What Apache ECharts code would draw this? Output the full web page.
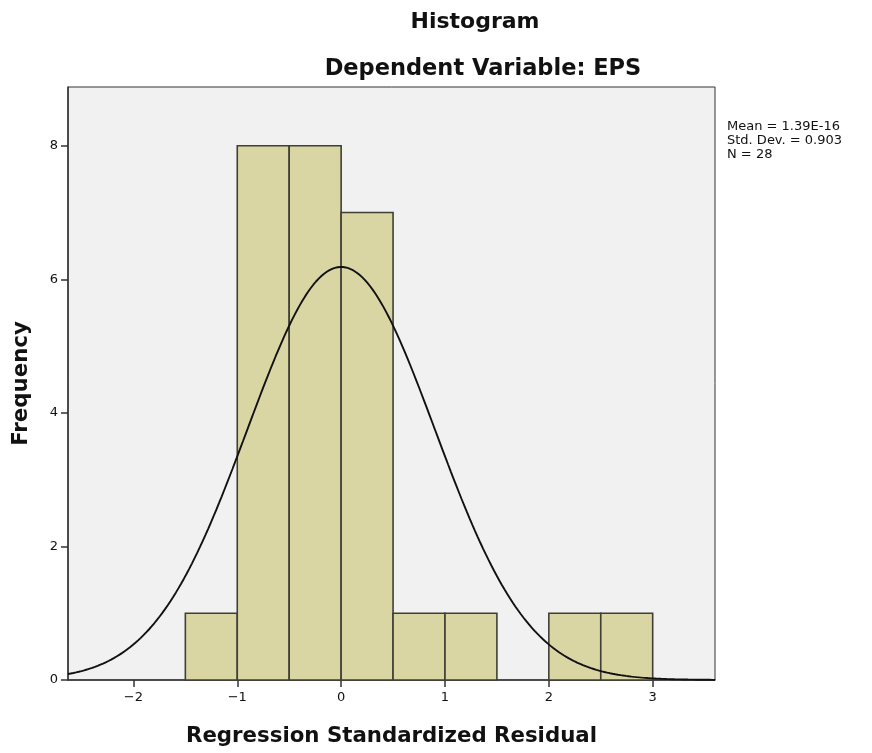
<!DOCTYPE html>
<html>
<head>
<meta charset="utf-8">
<script src="https://cdn.jsdelivr.net/npm/echarts@6/dist/echarts.min.js"></script>
<style>
  html, body { margin: 0; padding: 0; background: #ffffff; }
  #chart { width: 872px; height: 753px; }
</style>
</head>
<body>
<div id="chart"></div>
<script>
// Histogram bins of the regression standardized residuals (bin width 0.5)
const binStarts = [-1.5, -1.0, -0.5, 0.0, 0.5, 1.0, 1.5, 2.0, 2.5];
const binCounts = [1, 8, 8, 7, 1, 1, 0, 1, 1];
const binWidth = 0.5;

// Summary statistics shown in the side note
const stats = { mean: 1.39e-16, sd: 0.903, n: 28 };
const statLines = ['Mean = 1.39E-16', 'Std. Dev. = 0.903', 'N = 28'];

// Axis ticks
const xTicks = [-2, -1, 0, 1, 2, 3];
const yTicks = [0, 2, 4, 6, 8];
const xRange = [-2.63, 3.6];
const yRange = [0, 8.88];

// Normal curve scaled to the histogram: N * binWidth * pdf(x)
const curve = [];
const steps = 240;
for (let i = 0; i <= steps; i++) {
  const x = xRange[0] + (xRange[1] - xRange[0]) * i / steps;
  const z = (x - stats.mean) / stats.sd;
  const y = stats.n * binWidth * Math.exp(-0.5 * z * z) / (stats.sd * Math.sqrt(2 * Math.PI));
  curve.push([x, y]);
}

const bars = binStarts.map((s, i) => [s, s + binWidth, binCounts[i]]);

const chart = echarts.init(document.getElementById('chart'));
const fontFam = '"DejaVu Sans", Verdana, sans-serif';

chart.setOption({
  animation: false,
  backgroundColor: '#ffffff',
  title: [
    { text: 'Histogram', left: 470, top: 6, textAlign: 'center',
      textStyle: { fontFamily: fontFam, fontWeight: 'bold', fontSize: 22, color: '#111' } },
    { text: 'Dependent Variable: EPS', left: 478, top: 53, textAlign: 'center',
      textStyle: { fontFamily: fontFam, fontWeight: 'bold', fontSize: 22.5, color: '#111' } }
  ],
  graphic: [{
    type: 'text', left: 727, top: 120,
    style: { text: statLines.join('\n'), fontFamily: fontFam, fontSize: 13, lineHeight: 14, fill: '#111' }
  }],
  grid: {
    left: 68, top: 87, width: 647, height: 593,
    show: true, backgroundColor: '#f1f1f1', borderColor: '#333', borderWidth: 1
  },
  xAxis: {
    type: 'value', min: xRange[0], max: xRange[1],
    name: 'Regression Standardized Residual', nameLocation: 'middle', nameGap: 46,
    nameTextStyle: { fontFamily: fontFam, fontWeight: 'bold', fontSize: 21.3, color: '#111' },
    splitLine: { show: false },
    axisLine: { show: true, onZero: false, lineStyle: { color: '#333', width: 1.5 } },
    axisTick: { show: true, inside: false, length: 7, customValues: xTicks, lineStyle: { color: '#333', width: 1.5 } },
    axisLabel: { customValues: xTicks, fontFamily: fontFam, fontSize: 13, color: '#111', margin: 11,
      formatter: v => (v < 0 ? '\u2212' + Math.abs(v) : String(v)) }
  },
  yAxis: {
    type: 'value', min: yRange[0], max: yRange[1],
    name: 'Frequency', nameLocation: 'middle', nameGap: 36,
    nameTextStyle: { fontFamily: fontFam, fontWeight: 'bold', fontSize: 21.3, color: '#111' },
    splitLine: { show: false },
    axisLine: { show: true, onZero: false, lineStyle: { color: '#333', width: 1.5 } },
    axisTick: { show: true, inside: false, length: 7, customValues: yTicks, lineStyle: { color: '#333', width: 1.5 } },
    axisLabel: { customValues: yTicks, fontFamily: fontFam, fontSize: 13, color: '#111', margin: 10 }
  },
  series: [
    {
      type: 'custom',
      data: bars,
      renderItem: function (params, api) {
        const x0 = api.value(0), x1 = api.value(1), c = api.value(2);
        if (c <= 0) return null;
        const p0 = api.coord([x0, 0]);
        const p1 = api.coord([x1, c]);
        return {
          type: 'rect',
          shape: { x: p0[0], y: p1[1], width: p1[0] - p0[0], height: p0[1] - p1[1] },
          style: { fill: '#d9d6a4', stroke: '#3f3f36', lineWidth: 1.6 }
        };
      },
      encode: { x: [0, 1], y: 2 },
      z: 2
    },
    {
      type: 'line',
      data: curve,
      showSymbol: false,
      smooth: false,
      lineStyle: { color: '#111', width: 1.9 },
      z: 3
    }
  ]
});
</script>
</body>
</html>
